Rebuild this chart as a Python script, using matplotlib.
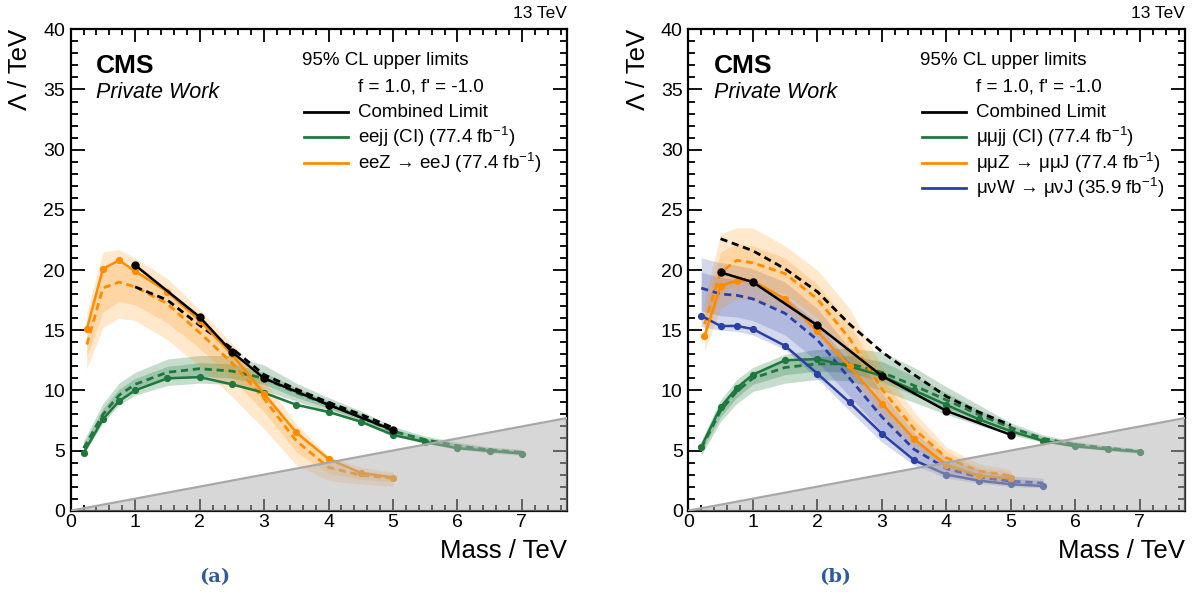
import matplotlib
matplotlib.use("Agg")
import matplotlib.pyplot as plt
from matplotlib.ticker import MultipleLocator

plt.rcParams['font.family'] = ['Liberation Sans', 'DejaVu Sans']
plt.rcParams['mathtext.fontset'] = 'custom'
plt.rcParams['mathtext.rm'] = 'Liberation Sans'
plt.rcParams['mathtext.it'] = 'Liberation Sans:italic'
plt.rcParams['mathtext.bf'] = 'Liberation Sans:bold'

# ---------------- electron channel (a) ----------------
ee_comb_mass = [1.0, 2.0, 2.5, 3.0, 4.0, 5.0]
ee_comb_obs = [20.4, 16.1, 13.2, 11.0, 8.8, 6.7]
ee_comb_exp_mass = [1.0, 1.5, 2.0, 2.5, 3.0, 3.5, 4.0, 4.5, 5.0]
ee_comb_exp = [18.6, 17.5, 15.4, 13.5, 11.3, 10.1, 9.0, 8.0, 6.9]

ee_ci_mass = [0.2, 0.5, 0.75, 1.0, 1.5, 2.0, 2.5, 3.0, 3.5, 4.0, 4.5, 5.0, 5.5, 6.0, 6.5, 7.0]
ee_ci_obs = [4.8, 7.6, 9.1, 10.0, 11.0, 11.1, 10.5, 9.8, 8.8, 8.2, 7.4, 6.3, 5.7, 5.2, 4.97, 4.75]
ee_ci_exp = [5.2, 8.0, 9.6, 10.5, 11.5, 11.8, 11.6, 11.0, 9.8, 8.8, 7.8, 6.6, 5.9, 5.4, 5.05, 4.85]
ee_ci_m2 = [4.7, 7.3, 8.8, 9.6, 10.4, 10.6, 10.5, 10.0, 9.1, 8.2, 7.3, 6.2, 5.6, 5.1, 4.8, 4.6]
ee_ci_m1 = [4.9, 7.6, 9.2, 10.0, 10.9, 11.2, 11.0, 10.5, 9.4, 8.5, 7.55, 6.4, 5.75, 5.25, 4.92, 4.72]
ee_ci_p1 = [5.5, 8.5, 10.1, 11.0, 12.0, 12.3, 12.2, 11.5, 10.2, 9.1, 8.05, 6.8, 6.05, 5.55, 5.18, 4.98]
ee_ci_p2 = [5.8, 8.9, 10.6, 11.5, 12.6, 12.9, 12.9, 12.1, 10.6, 9.4, 8.3, 7.0, 6.2, 5.7, 5.3, 5.1]

ee_z_mass = [0.25, 0.5, 0.75, 1.0, 1.5, 2.0, 2.5, 3.0, 3.5, 4.0, 4.5, 5.0]
ee_z_obs = [15.1, 20.1, 20.8, 19.9, 18.2, 15.8, 13.0, 9.7, 6.5, 4.3, 3.15, 2.75]
ee_z_exp = [13.8, 18.5, 19.0, 18.6, 17.2, 14.8, 12.3, 9.3, 5.8, 3.6, 2.95, 2.7]
ee_z_m2 = [11.8, 15.2, 16.0, 15.8, 14.2, 12.0, 9.5, 6.8, 3.8, 2.5, 2.2, 2.0]
ee_z_m1 = [12.8, 16.5, 17.4, 17.1, 15.6, 13.5, 11.0, 8.2, 4.9, 3.1, 2.6, 2.4]
ee_z_p1 = [15.0, 20.2, 20.5, 20.0, 18.5, 15.9, 13.3, 10.1, 6.5, 4.1, 3.3, 3.0]
ee_z_p2 = [16.5, 21.5, 21.7, 21.0, 19.3, 16.7, 13.9, 10.8, 7.2, 4.5, 3.6, 3.2]

# ---------------- muon channel (b) ----------------
mm_comb_mass = [0.5, 1.0, 2.0, 3.0, 4.0, 5.0]
mm_comb_obs = [19.8, 19.0, 15.4, 11.2, 8.3, 6.3]
mm_comb_exp_mass = [0.5, 1.0, 1.5, 2.0, 2.5, 3.0, 3.5, 4.0, 4.5, 5.0]
mm_comb_exp = [22.6, 21.6, 20.1, 18.2, 15.5, 13.2, 11.3, 9.5, 8.2, 7.1]

mm_ci_mass = [0.2, 0.5, 0.75, 1.0, 1.5, 2.0, 2.5, 3.0, 3.5, 4.0, 4.5, 5.0, 5.5, 6.0, 6.5, 7.0]
mm_ci_obs = [5.3, 8.6, 10.2, 11.3, 12.5, 12.6, 12.0, 11.2, 10.0, 8.8, 7.6, 6.6, 5.8, 5.35, 5.1, 4.9]
mm_ci_exp = [5.2, 8.3, 9.9, 11.0, 11.9, 12.2, 12.2, 11.5, 10.4, 9.2, 8.0, 6.9, 6.0, 5.5, 5.2, 4.95]
mm_ci_m2 = [4.6, 7.4, 8.9, 9.9, 10.6, 10.9, 10.8, 10.0, 9.0, 8.0, 7.1, 6.3, 5.7, 5.25, 5.0, 4.75]
mm_ci_m1 = [4.9, 7.8, 9.4, 10.5, 11.3, 11.6, 11.5, 10.7, 9.6, 8.5, 7.5, 6.6, 5.85, 5.38, 5.1, 4.85]
mm_ci_p1 = [5.5, 8.8, 10.4, 11.5, 12.5, 12.8, 12.9, 12.4, 11.2, 9.8, 8.4, 7.1, 6.15, 5.62, 5.3, 5.05]
mm_ci_p2 = [5.8, 9.2, 10.9, 11.9, 13.0, 13.4, 13.5, 13.2, 11.9, 10.3, 8.8, 7.3, 6.3, 5.75, 5.4, 5.15]

mm_z_mass = [0.25, 0.5, 0.75, 1.0, 1.5, 2.0, 2.5, 3.0, 3.5, 4.0, 4.5, 5.0]
mm_z_obs = [14.5, 18.7, 19.1, 19.1, 17.6, 14.9, 12.0, 8.9, 5.95, 3.8, 2.9, 2.7]
mm_z_exp = [15.5, 19.8, 20.8, 20.6, 19.7, 17.6, 14.3, 10.1, 6.8, 4.4, 3.3, 2.9]
mm_z_m2 = [13.3, 16.8, 17.6, 17.5, 16.6, 14.6, 11.4, 7.9, 5.3, 3.4, 2.6, 2.3]
mm_z_m1 = [14.2, 18.0, 19.0, 18.8, 18.0, 16.0, 12.8, 8.9, 6.0, 3.9, 2.9, 2.6]
mm_z_p1 = [16.5, 21.5, 22.2, 22.0, 21.0, 18.8, 15.5, 11.0, 7.5, 4.9, 3.6, 3.2]
mm_z_p2 = [17.5, 23.0, 23.5, 23.5, 22.0, 20.0, 16.8, 12.0, 8.2, 5.3, 3.9, 3.4]

mv_w_mass = [0.2, 0.5, 0.75, 1.0, 1.5, 2.0, 2.5, 3.0, 3.5, 4.0, 4.5, 5.0, 5.5]
mv_w_obs = [16.2, 15.35, 15.35, 15.1, 13.7, 11.4, 9.0, 6.4, 4.2, 3.0, 2.5, 2.2, 2.05]
mv_w_exp = [18.5, 18.0, 17.9, 17.6, 16.4, 14.2, 11.0, 7.8, 5.1, 3.5, 2.8, 2.45, 2.3]
mv_w_m2 = [15.3, 15.0, 14.9, 14.6, 13.4, 11.0, 8.3, 5.7, 3.8, 2.7, 2.3, 2.0, 1.9]
mv_w_m1 = [16.6, 16.2, 16.1, 15.8, 14.6, 12.4, 9.5, 6.6, 4.3, 3.0, 2.5, 2.2, 2.1]
mv_w_p1 = [19.8, 19.4, 19.2, 18.9, 17.8, 15.6, 12.3, 8.8, 5.8, 4.0, 3.1, 2.7, 2.5]
mv_w_p2 = [21.0, 20.6, 20.4, 20.1, 19.0, 16.8, 13.5, 9.8, 6.5, 4.4, 3.4, 2.9, 2.7]

X_MAX = 7.7
Y_MAX = 40.0

BLACK = 'black'
GREEN = '#1e783c'
ORANGE = '#ff8c00'
BLUE = '#2b40a6'
DASH = (0, (2.6, 1.7))


def draw_channel(ax, mass, obs, exp, m2, m1, p1, p2, color, band_alpha, ms=4.2):
    ax.fill_between(mass, m2, p2, color=color, alpha=band_alpha, lw=0, zorder=1)
    ax.fill_between(mass, m1, p1, color=color, alpha=band_alpha, lw=0, zorder=1)
    ax.plot(mass, exp, color=color, lw=2.0, ls=DASH, zorder=3)
    ax.plot(mass, obs, color=color, lw=1.8, marker='o', ms=ms, zorder=4)


def style_axes(ax):
    ax.set_xlim(0, X_MAX)
    ax.set_ylim(0, Y_MAX)
    ax.xaxis.set_major_locator(MultipleLocator(1))
    ax.xaxis.set_minor_locator(MultipleLocator(0.2))
    ax.yaxis.set_major_locator(MultipleLocator(5))
    ax.yaxis.set_minor_locator(MultipleLocator(1))
    ax.tick_params(which='both', direction='in', top=True, right=True,
                   labelsize=14, width=1.3, colors='black')
    ax.tick_params(axis='x', which='major', length=9, pad=2.5)
    ax.tick_params(axis='x', which='minor', length=4.5)
    ax.tick_params(axis='y', which='major', length=10, pad=4)
    ax.tick_params(axis='y', which='minor', length=5)
    for s in ax.spines.values():
        s.set_linewidth(1.6)
    # region where the scale is below the mass
    ax.fill_between([0, X_MAX], [0, 0], [0, X_MAX], color='#b0b0b0',
                    alpha=0.5, lw=0, zorder=5)
    ax.plot([0, X_MAX], [0, X_MAX], color='#a8a8a8', lw=1.6, zorder=6)
    ax.text(1.0, -0.083, 'Mass / TeV', transform=ax.transAxes, ha='right',
            va='center', fontsize=18.5)
    ax.text(-0.102, 1.0, 'Λ / TeV', transform=ax.transAxes, ha='center',
            va='top', rotation=90, fontsize=18.5)
    ax.text(1.0, 1.033, '13 TeV', transform=ax.transAxes, ha='right',
            va='center', fontsize=12.5)
    ax.text(0.051, 0.924, 'CMS', transform=ax.transAxes, ha='left',
            va='center', fontsize=19, fontweight='bold')
    ax.text(0.051, 0.868, 'Private Work', transform=ax.transAxes, ha='left',
            va='center', fontsize=15.5, style='italic')


def draw_legend(ax, entries):
    kw = dict(transform=ax.transAxes, ha='left', va='center', fontsize=13.5, zorder=8)
    ax.text(0.466, 0.936, '95% CL upper limits', **kw)
    ax.text(0.579, 0.880, "f = 1.0, f' = -1.0", **kw)
    y = 0.828
    for label, color in entries:
        ax.plot([0.470, 0.559], [y, y], color=color, lw=2.0,
                transform=ax.transAxes, zorder=8, clip_on=False)
        ax.text(0.579, y, label, **kw)
        y -= 0.0525


fig = plt.figure(figsize=(11.92, 5.99), dpi=100)
ax_a = fig.add_axes([70.7 / 1192, 88.3 / 599, 496.3 / 1192, 481.4 / 599])
ax_b = fig.add_axes([688.3 / 1192, 88.3 / 599, 496.7 / 1192, 481.4 / 599])

# (a) electrons
draw_channel(ax_a, ee_ci_mass, ee_ci_obs, ee_ci_exp, ee_ci_m2, ee_ci_m1,
             ee_ci_p1, ee_ci_p2, GREEN, 0.25)
draw_channel(ax_a, ee_z_mass, ee_z_obs, ee_z_exp, ee_z_m2, ee_z_m1,
             ee_z_p1, ee_z_p2, ORANGE, 0.2)
ax_a.plot(ee_comb_exp_mass, ee_comb_exp, color=BLACK, lw=2.0, ls=DASH, zorder=3.5)
ax_a.plot(ee_comb_mass, ee_comb_obs, color=BLACK, lw=1.8, marker='o', ms=5, zorder=4.5)
style_axes(ax_a)
draw_legend(ax_a, [('Combined Limit', BLACK),
                   ('eejj (CI) (77.4 fb$^{-1}$)', GREEN),
                   ('eeZ → eeJ (77.4 fb$^{-1}$)', ORANGE)])

# (b) muons
draw_channel(ax_b, mm_ci_mass, mm_ci_obs, mm_ci_exp, mm_ci_m2, mm_ci_m1,
             mm_ci_p1, mm_ci_p2, GREEN, 0.25)
draw_channel(ax_b, mv_w_mass, mv_w_obs, mv_w_exp, mv_w_m2, mv_w_m1,
             mv_w_p1, mv_w_p2, BLUE, 0.2)
draw_channel(ax_b, mm_z_mass, mm_z_obs, mm_z_exp, mm_z_m2, mm_z_m1,
             mm_z_p1, mm_z_p2, ORANGE, 0.2)
ax_b.plot(mm_comb_exp_mass, mm_comb_exp, color=BLACK, lw=2.0, ls=DASH, zorder=3.5)
ax_b.plot(mm_comb_mass, mm_comb_obs, color=BLACK, lw=1.8, marker='o', ms=5, zorder=4.5)
style_axes(ax_b)
draw_legend(ax_b, [('Combined Limit', BLACK),
                   ('μμjj (CI) (77.4 fb$^{-1}$)', GREEN),
                   ('μμZ → μμJ (77.4 fb$^{-1}$)', ORANGE),
                   ('μνW → μνJ (35.9 fb$^{-1}$)', BLUE)])

cap_kw = dict(ha='center', va='center', fontsize=14, fontweight='bold',
              color='#2f5b9c', family=['DejaVu Serif'])
fig.text(215 / 1192, 1 - 577 / 599, '(a)', **cap_kw)
fig.text(835 / 1192, 1 - 577 / 599, '(b)', **cap_kw)

fig.savefig('out.png', dpi=100)
